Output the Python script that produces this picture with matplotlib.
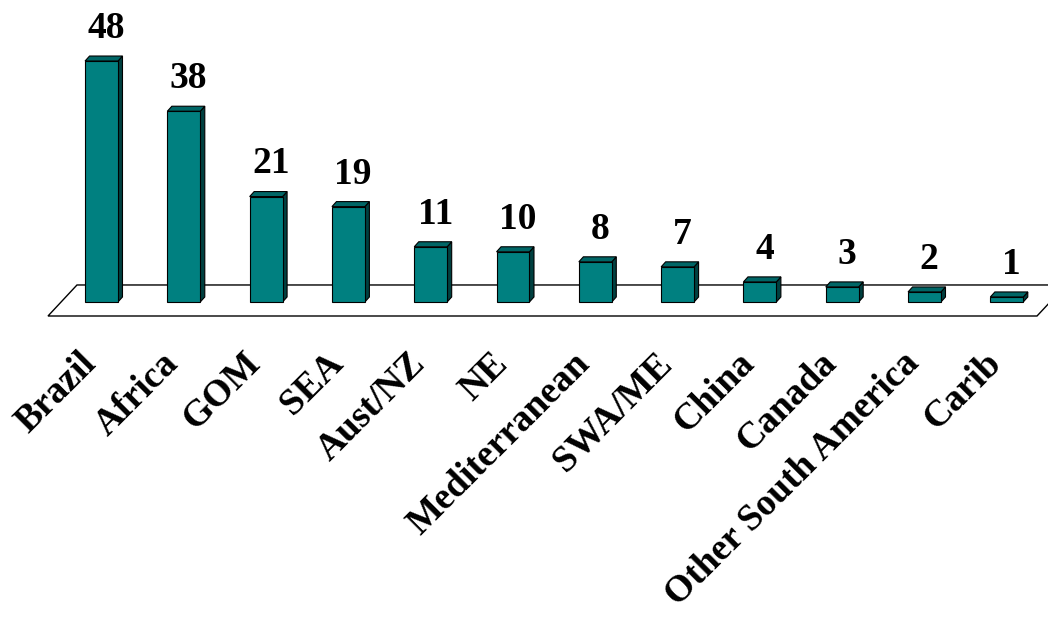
import numpy as np
import matplotlib
matplotlib.use("Agg")
import matplotlib.pyplot as plt

# Regions and counts
regions = ["Brazil", "Africa", "GOM", "SEA", "Aust/NZ", "NE", "Mediterranean",
           "SWA/ME", "China", "Canada", "Other South America", "Carib"]
counts = [48, 38, 21, 19, 11, 10, 8, 7, 4, 3, 2, 1]

FRONT = "#008080"
SIDE = "#004040"
TOP = "#006666"
FONT = "Liberation Serif"

fig = plt.figure(figsize=(10.48, 6.19), dpi=100)
ax = fig.add_axes([0, 0, 1, 1])
ax.set_xlim(-1.2333, 11.5006)
ax.set_ylim(-63.15, 60.16)
ax.axis("off")

x = np.arange(len(regions))
width = 0.40
dx, dy = 0.055, 1.0   # fake depth of the 3-D bars

# floor plane
floor_x = [-0.650, -0.298, 11.72, 11.367]
floor_y = [-2.79, 3.39, 3.39, -2.79]
ax.fill(floor_x, floor_y, facecolor="white", edgecolor="black", lw=1.0, zorder=1)

bars = ax.bar(x, counts, width=width, color=FRONT, edgecolor="black",
              linewidth=0.8, zorder=3)

for xi, v in zip(x, counts):
    l, r = xi - width / 2, xi + width / 2
    # right side face
    ax.fill([r, r + dx, r + dx, r], [0, dy, v + dy, v],
            facecolor=SIDE, edgecolor="black", lw=0.8, zorder=2.9)
    # top face
    ax.fill([l, l + dx, r + dx, r], [v, v + dy, v + dy, v],
            facecolor=TOP, edgecolor="black", lw=0.8, zorder=2.9)
    ax.text(xi + dx / 2 + 0.03, v + 4.6, str(v), ha="center", va="baseline",
            fontsize=27, fontweight="bold", family=FONT, zorder=4)

for xi, name in zip(x, regions):
    ax.text(xi - 0.05, -12.5, name, rotation=45, rotation_mode="anchor",
            ha="right", va="baseline", fontsize=27, fontweight="bold",
            family=FONT)

fig.savefig("out.png", dpi=100, facecolor="white")
